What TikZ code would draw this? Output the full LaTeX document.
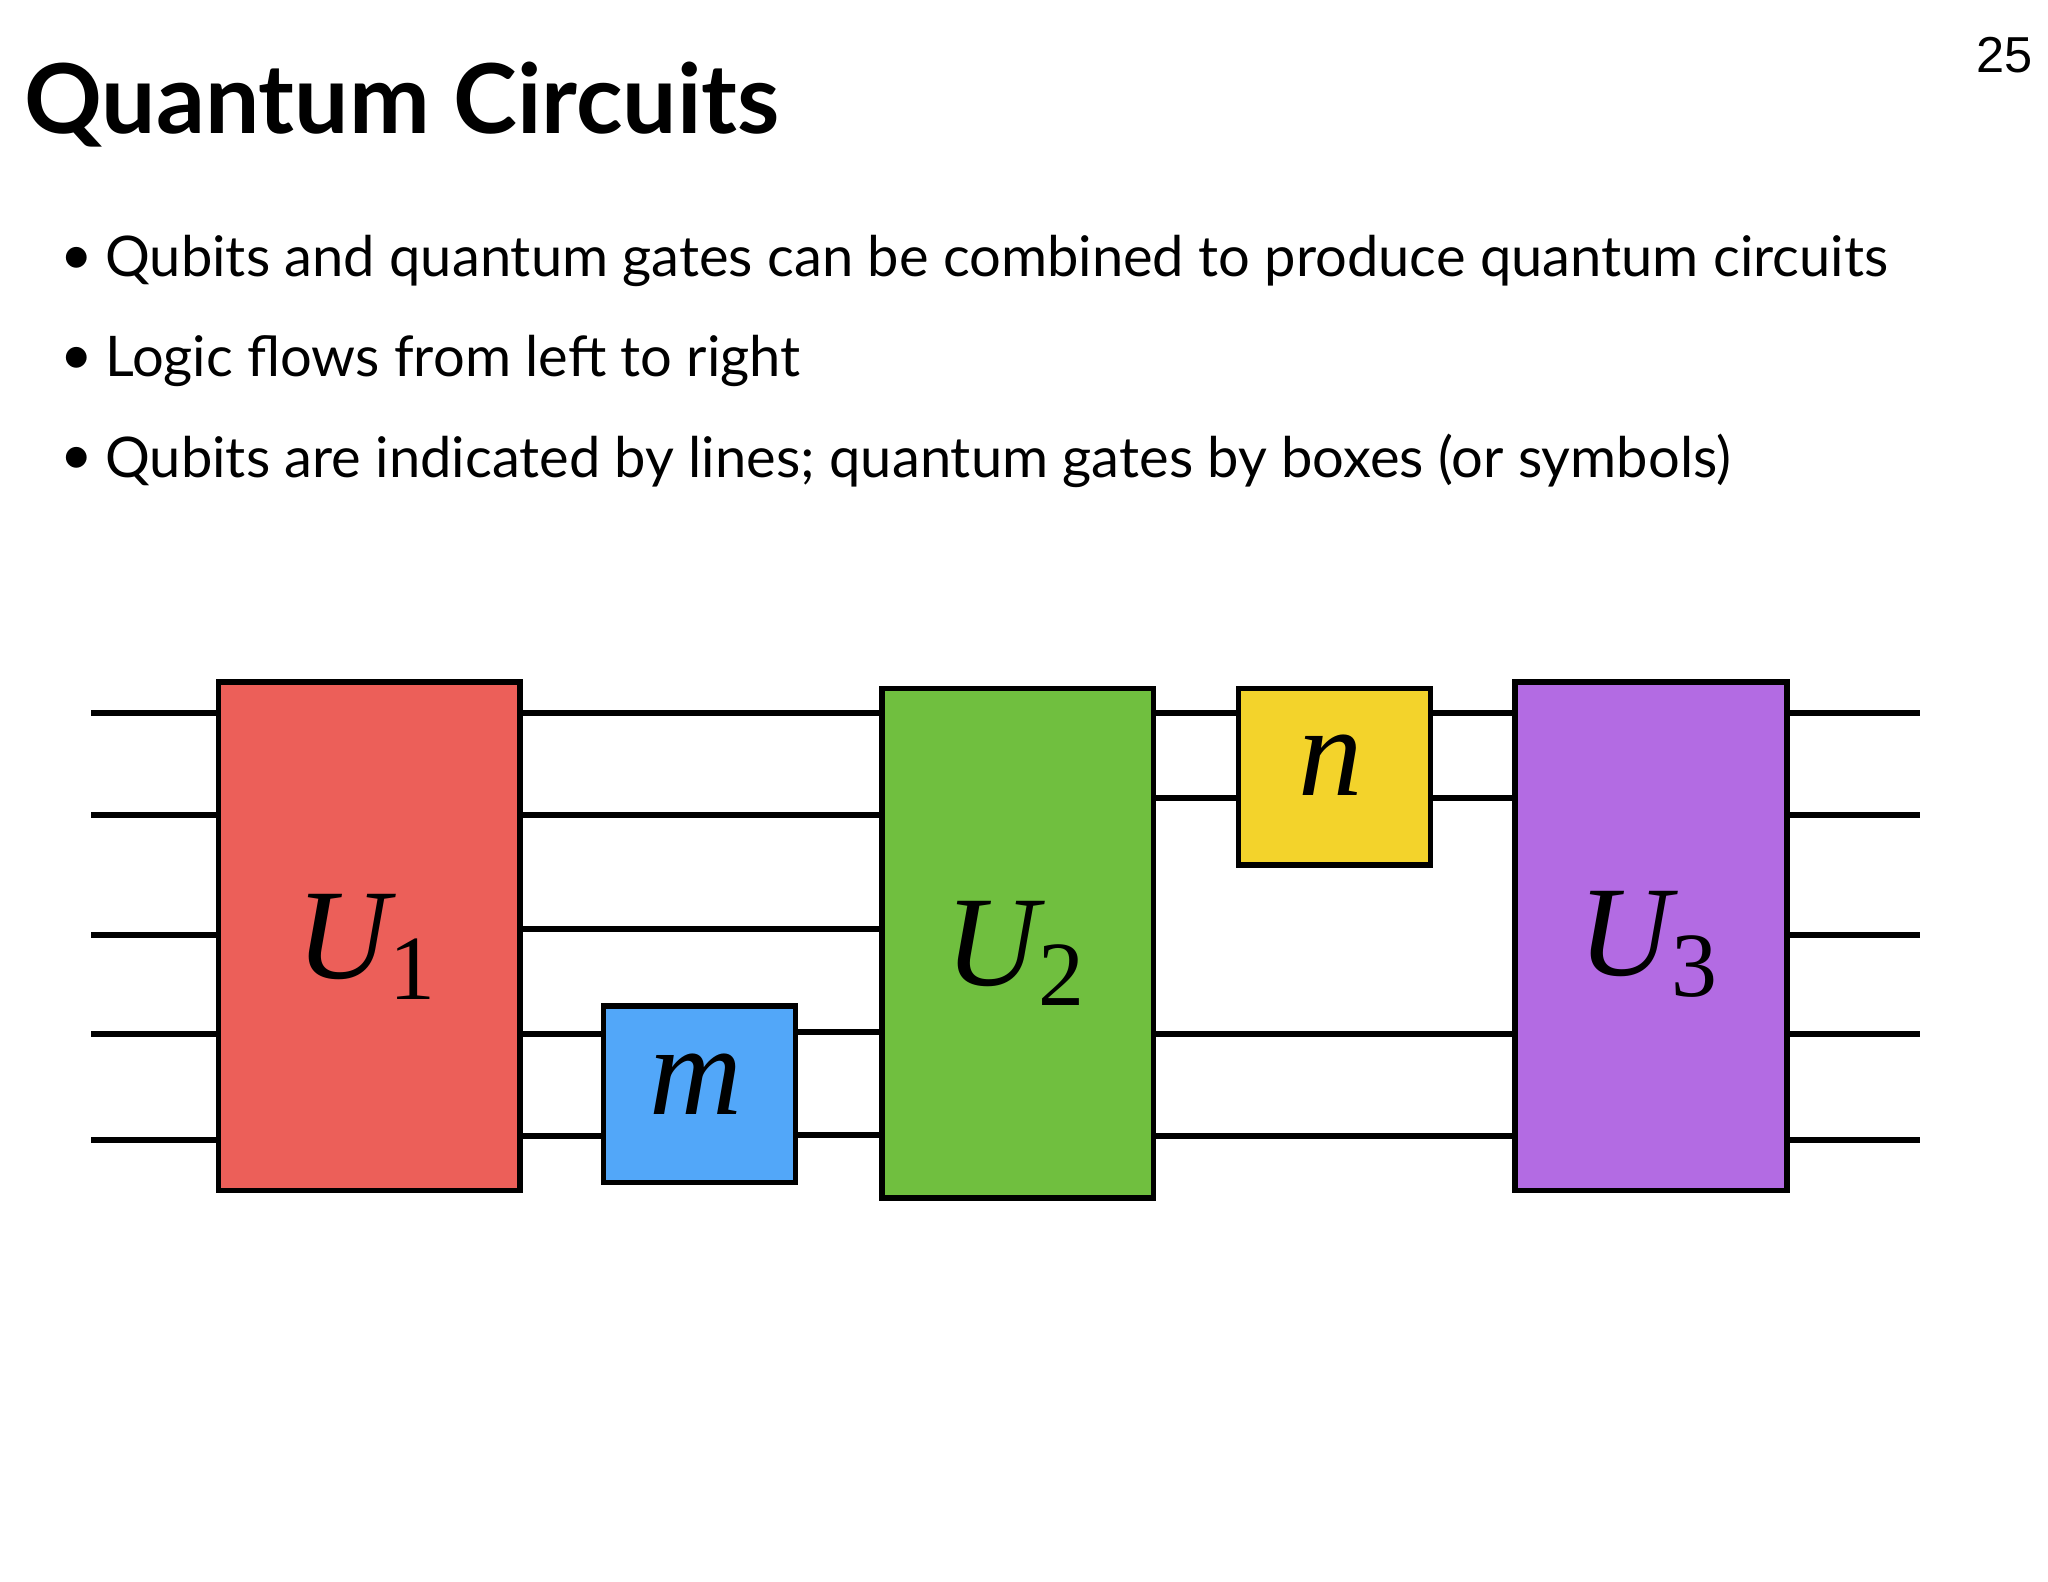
\documentclass[tikz,border=0pt]{standalone}
\usepackage{fontspec}
\setmainfont{Lato}
\newfontfamily\numfont{Liberation Sans}
\newfontfamily\lblfont{Liberation Serif}
\newcommand{\lbl}[2]{{\lblfont\fontsize{28}{32}\selectfont\itshape #1\raisebox{-0.35ex}{\upshape\fontsize{20}{24}\selectfont #2}}}
\begin{document}
\begin{tikzpicture}[x=0.01cm,y=-0.01cm,
  wire/.style={line width=1.3pt},
  gate/.style={draw=black,line width=1.2pt,anchor=north west,inner sep=0pt},
  bullet/.style={anchor=west,inner sep=0pt,font=\fontsize{12.2}{15}\selectfont}]
\useasboundingbox (0,0) rectangle (1568,1211);
\fill[white] (0,0) rectangle (1568,1211);
\node[anchor=west,inner sep=0pt,font=\fontsize{21}{25}\selectfont\bfseries] (title) at (18,80) {Quantum Circuits};
\node[anchor=east,inner sep=0pt,font=\numfont\fontsize{11}{13}\selectfont] (pg) at (1557,42) {25};
\node[bullet] (d1) at (46,200) {•}; \node[bullet] (b1) at (80,200) {Qubits and quantum gates can be combined to produce quantum circuits};
\node[bullet] (d2) at (46,276) {•}; \node[bullet] (b2) at (80,276) {Logic flows from left to right};
\node[bullet] (d3) at (46,353) {•}; \node[bullet] (b3) at (80,353) {Qubits are indicated by lines; quantum gates by boxes (or symbols)};
% wires
\foreach \y in {546,624,716,792,873}{\draw[wire] (70,\y) -- (165,\y); \draw[wire] (1370,\y) -- (1470,\y);}
\foreach \y in {546,624,711}{\draw[wire] (396,\y) -- (673,\y);}
\draw[wire] (396,792) -- (460,792); \draw[wire] (396,870) -- (460,870);
\draw[wire] (607,790) -- (673,790); \draw[wire] (607,869) -- (673,869);
\draw[wire] (881,546) -- (946,546); \draw[wire] (881,611) -- (946,611);
\draw[wire] (1093,546) -- (1158,546); \draw[wire] (1093,611) -- (1158,611);
\draw[wire] (881,792) -- (1158,792); \draw[wire] (881,870) -- (1158,870);
% gates
\node[gate,fill={rgb,255:red,236;green,95;blue,89},minimum width=2.31cm,minimum height=3.89cm] (U1) at (165,520) {};
\node (l1) at (280,725) {\lbl{U}{1}};
\node[gate,fill={rgb,255:red,82;green,167;blue,249},minimum width=1.47cm,minimum height=1.35cm] (m) at (460,768) {};
\node (lm) at (533,838) {\lbl{m}{}};
\node[gate,fill={rgb,255:red,112;green,191;blue,63},minimum width=2.08cm,minimum height=3.9cm] (U2) at (673,525) {};
\node (l2) at (777,730) {\lbl{U}{2}};
\node[gate,fill={rgb,255:red,243;green,211;blue,43},minimum width=1.47cm,minimum height=1.35cm] (n) at (946,525) {};
\node (ln) at (1019,594) {\lbl{n}{}};
\node[gate,fill={rgb,255:red,179;green,107;blue,227},minimum width=2.08cm,minimum height=3.89cm] (U3) at (1158,520) {};
\node (l3) at (1262,723) {\lbl{U}{3}};
\end{tikzpicture}
\end{document}
